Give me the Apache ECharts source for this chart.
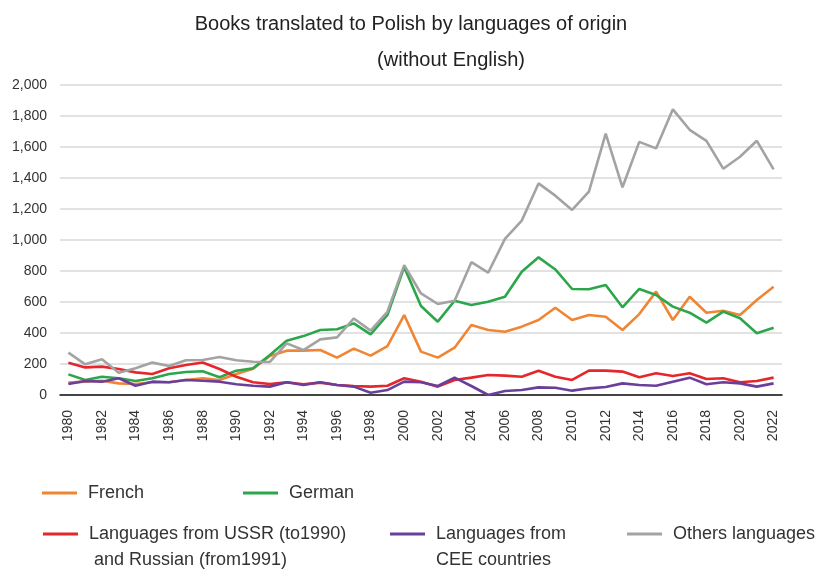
<!DOCTYPE html>
<html>
<head>
<meta charset="utf-8">
<script src="https://cdn.jsdelivr.net/npm/echarts@6/dist/echarts.min.js"></script>
<style>
  html, body { margin: 0; padding: 0; background: #fff; }
  #chart { width: 825px; height: 570px; }
</style>
</head>
<body>
<div id="chart"></div>
<script>
const years = []
for (let y = 1980; y <= 2022; y++) years.push(String(y))

const french = [80, 86, 92, 75, 71, 82, 82, 97, 108, 97,
  135, 170, 252, 286, 286, 290, 241, 299, 254, 316,
  516, 280, 241, 305, 452, 419, 408, 441, 484, 563,
  484, 516, 505, 419, 522, 667, 484, 634, 531, 544,
  516, 613, 699]
const german = [133, 97, 118, 108, 90, 108, 135, 148, 153, 114,
  157, 172, 258, 350, 380, 419, 424, 462, 391, 516,
  825, 574, 473, 608, 580, 602, 634, 795, 888, 810,
  684, 682, 710, 566, 684, 645, 570, 531, 467, 538,
  495, 398, 434]
const ussr = [208, 178, 183, 168, 146, 135, 172, 193, 210, 168,
  118, 82, 71, 82, 69, 80, 65, 58, 54, 60,
  108, 86, 54, 97, 112, 129, 125, 118, 157, 118,
  97, 157, 157, 151, 114, 140, 123, 140, 103, 108,
  82, 90, 112]
const cee = [71, 90, 86, 108, 60, 86, 82, 97, 92, 86,
  69, 60, 54, 82, 65, 82, 65, 54, 15, 32,
  86, 82, 58, 112, 58, 0, 26, 32, 49, 47,
  28, 43, 52, 75, 65, 60, 86, 112, 69, 82,
  75, 54, 75]
const others = [273, 198, 230, 144, 172, 209, 187, 224, 226, 245,
  224, 215, 213, 333, 290, 359, 372, 494, 415, 537,
  838, 655, 587, 608, 857, 789, 1007, 1125, 1365, 1286,
  1194, 1312, 1687, 1340, 1633, 1591, 1843, 1711, 1640, 1460,
  1537, 1640, 1456]

const names = {
  french: 'French',
  german: 'German',
  ussr: 'Languages from USSR (to1990) and Russian (from1991)',
  cee: 'Languages from CEE countries',
  others: 'Others languages',
}
// empty first line keeps the icon level with the first text line
const legendText = {
  [names.ussr]: '\nLanguages from USSR (to1990)\n and Russian (from1991)',
  [names.cee]: '\nLanguages from\nCEE countries',
}

const font = 'Liberation Sans'
const myChart = echarts.init(document.getElementById('chart'))

function legendAt(name, left, top) {
  return {
    data: [name],
    left: left,
    top: top,
    padding: 0,
    icon: 'rect',
    itemWidth: 35,
    itemHeight: 3,
    selectedMode: false,
    formatter: (n) => legendText[n] || n,
    textStyle: {
      fontFamily: font,
      fontSize: 18,
      color: '#333',
      lineHeight: 26,
      padding: [0, 0, 0, 6],
    },
  }
}

function line(name, color, data) {
  return {
    name: name,
    type: 'line',
    data: data,
    showSymbol: false,
    symbol: 'none',
    lineStyle: { color: color, width: 2.6 },
    itemStyle: { color: color },
  }
}

const option = {
  animation: false,
  title: [
    {
      text: 'Books translated to Polish by languages of origin',
      left: 406,
      textAlign: 'center',
      top: 9,
      textStyle: { fontFamily: font, fontSize: 20, fontWeight: 'normal', color: '#222' },
    },
    {
      text: '(without English)',
      left: 446,
      textAlign: 'center',
      top: 45,
      textStyle: { fontFamily: font, fontSize: 20, fontWeight: 'normal', color: '#222' },
    },
  ],
  legend: [
    legendAt(names.french, 42, 480),
    legendAt(names.german, 243, 480),
    legendAt(names.ussr, 43, 495),
    legendAt(names.cee, 390, 495),
    legendAt(names.others, 627, 521),
  ],
  grid: {
    left: 60,
    top: 85,
    width: 722,
    height: 310,
  },
  xAxis: {
    type: 'category',
    data: years,
    boundaryGap: true,
    axisLine: { lineStyle: { color: '#111', width: 1.5 } },
    axisTick: { show: false },
    axisLabel: {
      interval: 1,
      rotate: 90,
      margin: 15,
      fontFamily: font,
      fontSize: 14,
      color: '#333',
    },
  },
  yAxis: {
    type: 'value',
    min: 0,
    max: 2000,
    interval: 200,
    axisLine: { show: false },
    axisTick: { show: false },
    splitLine: { lineStyle: { color: '#d9d9d9', width: 1.5 } },
    axisLabel: {
      margin: 13,
      fontFamily: font,
      fontSize: 14,
      color: '#333',
      formatter: (v) => v.toLocaleString('en-US'),
    },
  },
  series: [
    line(names.french, '#ef8636', french),
    line(names.german, '#2ca64b', german),
    line(names.ussr, '#e5262b', ussr),
    line(names.cee, '#6a3f9c', cee),
    line(names.others, '#a3a3a3', others),
  ],
}
myChart.setOption(option)
</script>
</body>
</html>
